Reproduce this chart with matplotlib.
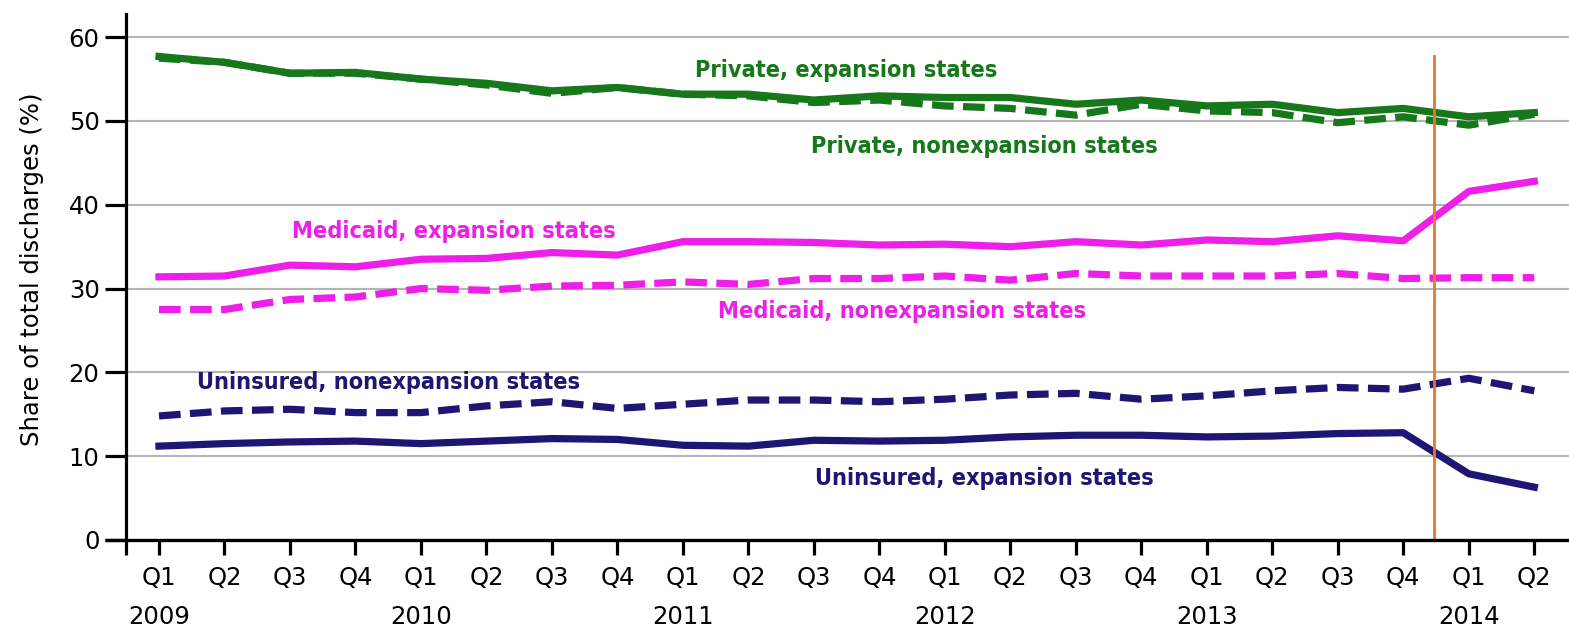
import matplotlib
matplotlib.use("Agg")
import matplotlib.pyplot as plt
import numpy as np

quarters = ["Q1", "Q2", "Q3", "Q4"] * 5 + ["Q1", "Q2"]
years = ["2009", "2010", "2011", "2012", "2013", "2014"]

private_exp = [57.7, 57.0, 55.7, 55.8, 55.0, 54.5, 53.6, 54.0, 53.2, 53.2, 52.5, 53.0,
               52.8, 52.8, 52.0, 52.5, 51.8, 52.0, 51.0, 51.5, 50.5, 51.0]
private_nonexp = [57.5, 57.0, 55.7, 55.7, 55.0, 54.3, 53.3, 54.0, 53.2, 53.0, 52.2, 52.5,
                  51.8, 51.5, 50.7, 52.0, 51.2, 51.0, 49.8, 50.5, 49.5, 50.8]
medicaid_exp = [31.4, 31.5, 32.8, 32.6, 33.5, 33.6, 34.3, 34.0, 35.6, 35.6, 35.5, 35.2,
                35.3, 35.0, 35.6, 35.2, 35.8, 35.6, 36.3, 35.7, 41.6, 42.8]
medicaid_nonexp = [27.5, 27.5, 28.7, 29.0, 30.0, 29.8, 30.3, 30.4, 30.8, 30.5, 31.2, 31.2,
                   31.5, 31.0, 31.8, 31.5, 31.5, 31.5, 31.8, 31.2, 31.3, 31.3]
uninsured_nonexp = [14.8, 15.4, 15.6, 15.2, 15.2, 16.0, 16.5, 15.7, 16.2, 16.7, 16.7, 16.5,
                    16.8, 17.3, 17.5, 16.8, 17.2, 17.8, 18.2, 18.0, 19.3, 17.8]
uninsured_exp = [11.2, 11.5, 11.7, 11.8, 11.5, 11.8, 12.1, 12.0, 11.3, 11.2, 11.9, 11.8,
                 11.9, 12.3, 12.5, 12.5, 12.3, 12.4, 12.7, 12.8, 7.9, 6.3]

GREEN = "#16781a"
MAGENTA = "#ee1fe8"
NAVY = "#1e1672"
ORANGE = "#e8762c"

x = np.arange(len(quarters))

fig = plt.figure(figsize=(15.69, 6.32), dpi=100)
ax = fig.add_axes([0.0803, 0.1456, 0.9197, 0.832])
XMIN, XMAX = -0.504, 21.53

lw = 5.2
dash = (3.0, 1.3)
ax.plot(x, private_exp, color=GREEN, lw=lw, zorder=4)
ax.plot(x, private_nonexp, color=GREEN, lw=lw, dashes=dash, zorder=4)
ax.plot(x, medicaid_exp, color=MAGENTA, lw=lw, zorder=4)
ax.plot(x, medicaid_nonexp, color=MAGENTA, lw=lw, dashes=dash, zorder=4)
ax.plot(x, uninsured_nonexp, color=NAVY, lw=lw, dashes=dash, zorder=4)
ax.plot(x, uninsured_exp, color=NAVY, lw=lw, zorder=4)

ax.plot([19.47, 19.47], [0, 57.8], color=ORANGE, lw=2, zorder=5)

ax.set_xlim(XMIN, XMAX)
ax.set_ylim(0, 62.75)

for yv in range(10, 61, 10):
    ax.axhline(yv, color="#b4b4b4", lw=1.5, zorder=1)

# spines
for s in ["top", "right", "bottom"]:
    ax.spines[s].set_visible(False)
ax.spines["left"].set_linewidth(2.3)
ax.plot([-0.824, XMAX], [0, 0], color="black", lw=2.4, clip_on=False, zorder=6,
        solid_capstyle="butt")
ax.plot([XMIN, XMIN], [0, -1.8], color="black", lw=2.3, clip_on=False, zorder=6,
        solid_capstyle="butt")

ax.set_yticks(range(0, 61, 10))
ax.tick_params(axis="y", length=15, width=2.3, labelsize=17.5, pad=4)
labels = []
for i, q in enumerate(quarters):
    yr = years[i // 4] if i % 4 == 0 else ""
    labels.append(q + "\n" + yr)
ax.set_xticks(x)
ax.set_xticklabels(labels, fontsize=17.5, linespacing=1.75)
ax.tick_params(axis="x", length=11, width=2.3, pad=8)

ax.set_ylabel("Share of total discharges (%)", fontsize=17.5)
ax.yaxis.set_label_coords(-0.057, 0.515)

lab = dict(fontsize=16.8, fontweight="bold", fontstretch="condensed", ha="center", va="center", zorder=7)
ax.text(10.5, 56.0, "Private, expansion states", color=GREEN, **lab)
ax.text(12.6, 47.0, "Private, nonexpansion states", color=GREEN, **lab)
ax.text(4.5, 36.8, "Medicaid, expansion states", color=MAGENTA, **lab)
ax.text(11.35, 27.3, "Medicaid, nonexpansion states", color=MAGENTA, **lab)
ax.text(3.5, 18.8, "Uninsured, nonexpansion states", color=NAVY, **lab)
ax.text(12.6, 7.3, "Uninsured, expansion states", color=NAVY, **lab)

fig.savefig("out.png", dpi=100)
